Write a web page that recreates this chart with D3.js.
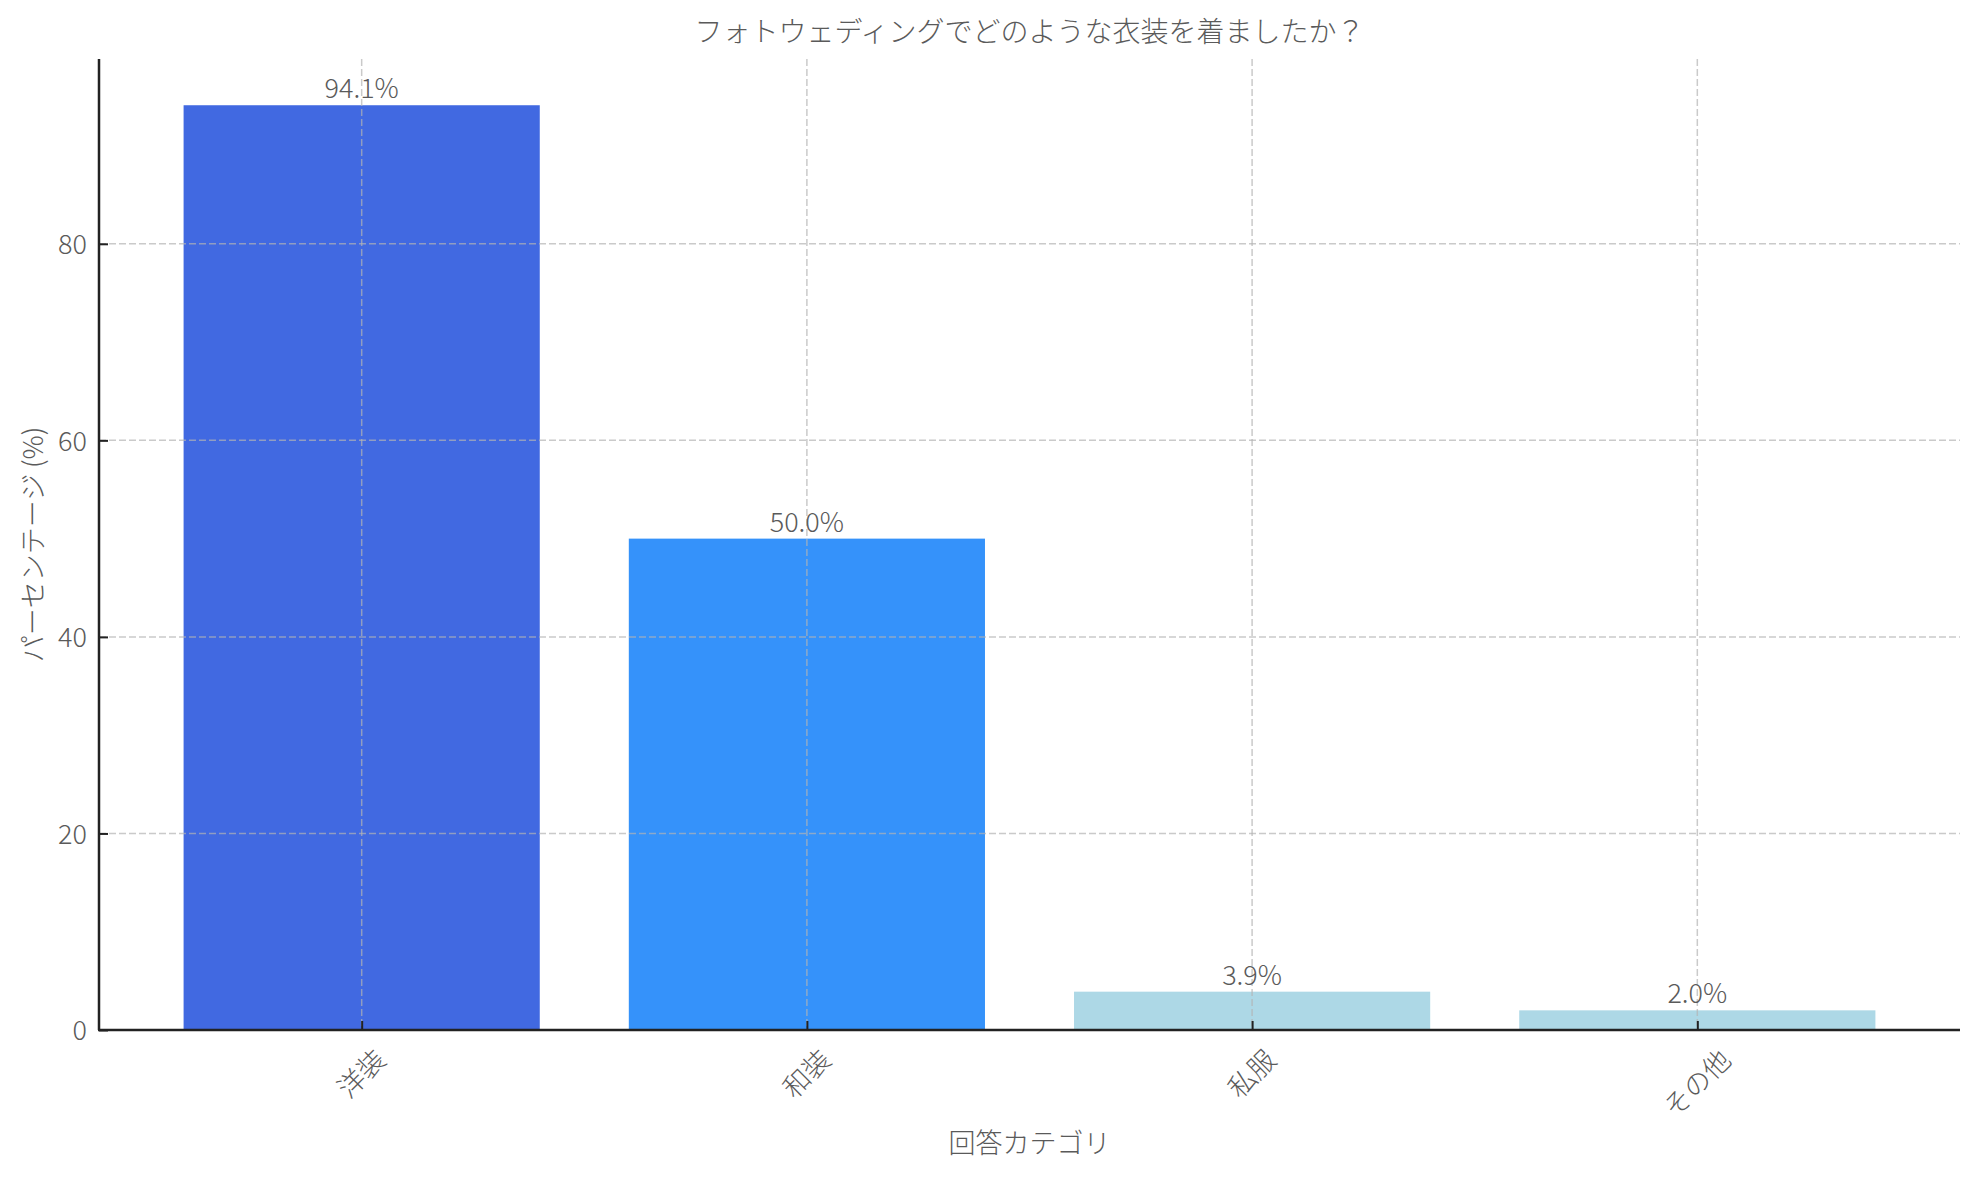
<!DOCTYPE html>
<html><head><meta charset="utf-8">
<script src="https://cdn.jsdelivr.net/npm/d3@7"></script>
<style>
html,body{margin:0;padding:0;background:#fff;}
text{font-family:"Noto Sans CJK JP","Noto Sans",sans-serif;font-weight:300;}
</style></head>
<body>
<svg id="chart" width="1979" height="1180"></svg>
<script>
const title = "フォトウェディングでどのような衣装を着ましたか？";
const categories = ["洋装", "和装", "私服", "その他"];
const values = [94.1, 50.0, 3.9, 2.0];
const barColors = ["#4169e1", "#3592fa", "#add8e6", "#add8e6"];
const yTicks = [0, 20, 40, 60, 80];
const xLabel = "回答カテゴリ";
const yLabel = "パーセンテージ (%)";

const W = 1979, H = 1180;
const m = {left: 99, right: 1960, top: 59, bottom: 1030};
const svg = d3.select("#chart");
const textColor = "#5a5a5a";
const fs = 27;

const n = categories.length;
const x = d3.scaleLinear().domain([-0.59, n - 1 + 0.59]).range([m.left, m.right]);
const yMax = d3.max(values) * 1.05;
const y = d3.scaleLinear().domain([0, yMax]).range([m.bottom, m.top]);
const bw = x(0.8) - x(0);

// bars
svg.append("g").selectAll("rect").data(values).join("rect")
  .attr("x", (d, i) => x(i - 0.4))
  .attr("width", bw)
  .attr("y", d => y(d))
  .attr("height", d => y(0) - y(d))
  .attr("fill", (d, i) => barColors[i]);

// grid
const grid = svg.append("g").attr("stroke", "#b4b4b4").attr("stroke-opacity", 0.7)
  .attr("stroke-width", 1.5).attr("stroke-dasharray", "7,3");
grid.selectAll("line.h").data(yTicks.filter(t => t > 0)).join("line").attr("class", "h")
  .attr("x1", m.left).attr("x2", m.right).attr("y1", d => y(d)).attr("y2", d => y(d));
grid.selectAll("line.v").data(categories).join("line").attr("class", "v")
  .attr("x1", (d, i) => x(i)).attr("x2", (d, i) => x(i)).attr("y1", m.top).attr("y2", m.bottom);

// value labels
svg.append("g").selectAll("text").data(values).join("text")
  .attr("x", (d, i) => x(i)).attr("y", d => y(d) - 7)
  .attr("text-anchor", "middle").attr("font-size", fs).attr("fill", textColor)
  .text(d => d.toFixed(1) + "%");

// y axis
const yAxis = svg.append("g").attr("transform", `translate(${m.left},0)`)
  .call(d3.axisLeft(y).tickValues(yTicks).tickSizeInner(-9).tickSizeOuter(0).tickPadding(12));
yAxis.select(".domain").attr("stroke", "#222").attr("stroke-width", 2.5)
  .attr("d", `M0,${m.top}V${m.bottom}`);
yAxis.selectAll(".tick line").attr("stroke", "#222").attr("stroke-width", 2);
yAxis.selectAll(".tick text").attr("font-size", fs).attr("fill", textColor)
  .attr("font-family", '"Noto Sans CJK JP","Noto Sans",sans-serif')
  .attr("x", -12).attr("dy", "0.36em");

// x axis
const xAxis = svg.append("g").attr("transform", `translate(0,${m.bottom})`)
  .call(d3.axisBottom(x).tickValues(d3.range(n)).tickFormat(i => categories[i])
    .tickSizeInner(-9).tickSizeOuter(0));
xAxis.select(".domain").attr("stroke", "#222").attr("stroke-width", 2.5)
  .attr("d", `M${m.left - 1},0H${m.right}`);
xAxis.selectAll(".tick line").attr("stroke", "#222").attr("stroke-width", 2);
xAxis.selectAll(".tick text").attr("font-size", fs).attr("fill", textColor)
  .attr("font-family", '"Noto Sans CJK JP","Noto Sans",sans-serif')
  .attr("text-anchor", "middle").attr("dy", null)
  .each(function() {
    const t = d3.select(this);
    const w = this.getComputedTextLength();
    const h = fs;
    const cy = 14 + (w + h) * Math.SQRT1_2 / 2;
    t.attr("x", 0).attr("y", 0)
      .attr("dominant-baseline", "central")
      .attr("transform", `translate(-2,${cy}) rotate(-45)`);
  });

// title and labels
svg.append("text").attr("x", (m.left + m.right) / 2).attr("y", 42)
  .attr("text-anchor", "middle").attr("font-size", 28).attr("fill", textColor).text(title);
svg.append("text").attr("x", (m.left + m.right) / 2).attr("y", 1153)
  .attr("text-anchor", "middle").attr("font-size", fs).attr("fill", textColor).text(xLabel);
svg.append("text").attr("transform", `translate(43,${(m.top + m.bottom) / 2}) rotate(-90)`)
  .attr("text-anchor", "middle").attr("font-size", fs).attr("fill", textColor).text(yLabel);
</script>
</body></html>
